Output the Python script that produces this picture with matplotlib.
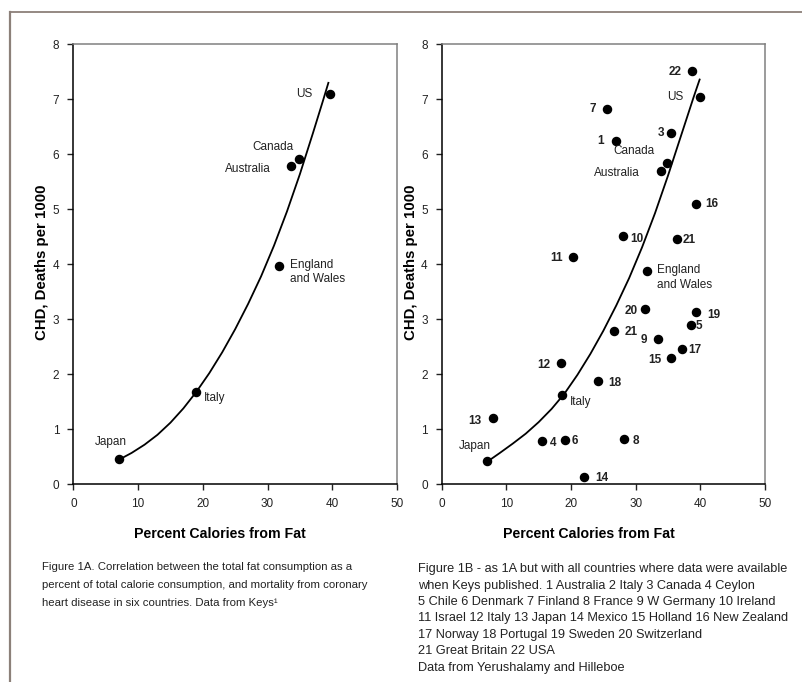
import matplotlib
matplotlib.use('Agg')
import matplotlib.pyplot as plt
from matplotlib.lines import Line2D

plt.rcParams['font.family'] = ['Liberation Sans Narrow', 'Liberation Sans', 'DejaVu Sans']

# Figure 1A - six countries (Keys)
a_fat = [7.1, 19.0, 31.7, 33.6, 34.9, 39.6]
a_chd = [0.46, 1.67, 3.97, 5.79, 5.91, 7.10]
a_names = ['Japan', 'Italy', 'England\nand Wales', 'Australia', 'Canada', 'US']

# trend line
a_curve_x = [7.1, 9, 11, 13, 15, 17, 19, 21, 23, 25, 27, 29, 31, 33, 35, 37, 38.5, 39.4]
a_curve_y = [0.45, 0.57, 0.72, 0.90, 1.12, 1.38, 1.68, 2.02, 2.40, 2.82, 3.28, 3.78,
             4.34, 4.96, 5.64, 6.38, 6.95, 7.30]

# Figure 1B - numbered countries (Yerushalamy and Hilleboe)
b_nums = ['22', '7', '3', '1', '16', '10', '21', '11', '20', '19', '5',
          '21', '9', '17', '15', '12', '18', '13', '4', '6', '8', '14']
b_fat = [38.7, 25.6, 35.4, 27.0, 39.3, 28.0, 36.4, 20.3, 31.5, 39.4, 38.5,
         26.7, 33.4, 37.1, 35.4, 18.5, 24.2, 7.9, 15.5, 19.1, 28.2, 22.0]
b_chd = [7.52, 6.82, 6.39, 6.25, 5.10, 4.51, 4.46, 4.13, 3.18, 3.13, 2.89,
         2.79, 2.65, 2.46, 2.29, 2.21, 1.88, 1.21, 0.79, 0.81, 0.82, 0.13]

# the six named countries again in 1B
b_named = ['US', 'Canada', 'Australia', 'England\nand Wales', 'Italy', 'Japan']
b_named_fat = [40.0, 34.8, 34.0, 31.7, 18.6, 7.05]
b_named_chd = [7.04, 5.84, 5.70, 3.87, 1.62, 0.42]

b_curve_x = [7.05, 9, 11, 13, 15, 17, 19, 21, 23, 25, 27, 29, 31, 33, 35, 37, 39, 39.9]
b_curve_y = [0.41, 0.57, 0.74, 0.92, 1.13, 1.37, 1.65, 1.99, 2.37, 2.79, 3.25, 3.75,
             4.31, 4.93, 5.61, 6.33, 7.05, 7.36]

ticks_x = [0, 10, 20, 30, 40, 50]
ticks_y = [0, 1, 2, 3, 4, 5, 6, 7, 8]

caption_a = ('Figure 1A. Correlation between the total fat consumption as a\n'
             'percent of total calorie consumption, and mortality from coronary\n'
             'heart disease in six countries. Data from Keys¹')
caption_b = ('Figure 1B - as 1A but with all countries where data were available\n'
             'when Keys published. 1 Australia 2 Italy 3 Canada 4 Ceylon\n'
             '5 Chile 6 Denmark 7 Finland 8 France 9 W Germany 10 Ireland\n'
             '11 Israel 12 Italy 13 Japan 14 Mexico 15 Holland 16 New Zealand\n'
             '17 Norway 18 Portugal 19 Sweden 20 Switzerland\n'
             '21 Great Britain 22 USA\n'
             'Data from Yerushalamy and Hilleboe')

# label offsets in pixels: (dx, dy, ha, va)
a_offsets = [(-8, 17, 'center', 'center'), (8, -6, 'left', 'center'),
             (11, 7, 'left', 'top'), (-20, -3, 'right', 'center'),
             (-6, 12, 'right', 'center'), (-17, 0, 'right', 'center')]
b_offsets = [(-10, -1), (-11, 0), (-6, 0), (-12, 0), (9, 0), (8, -3), (6, -1),
             (-10, -1), (-8, -2), (11, -3), (5, -1), (10, -1), (-10, -1), (7, -1),
             (-9, -2), (-11, -2), (10, -2), (-11, -3), (8, -2), (6, -1), (9, -2), (11, -1)]
b_named_offsets = [(-17, 0, 'right', 'center'), (-12, 12, 'right', 'center'),
                   (-22, -2, 'right', 'center'), (10, 7, 'left', 'top'),
                   (8, -7, 'left', 'center'), (-12, 15, 'center', 'center')]

fig = plt.figure(figsize=(8.03, 6.82), dpi=100)
ax1 = fig.add_axes([0.0913, 0.2899, 0.4031, 0.6451])
ax2 = fig.add_axes([0.5500, 0.2899, 0.4026, 0.6451])


def style_axes(ax):
    ax.set_xlim(0, 50)
    ax.set_ylim(0, 8)
    ax.set_xticks(ticks_x)
    ax.set_yticks(ticks_y)
    ax.tick_params(direction='out', length=4, width=1, labelsize=8.5, pad=6, colors='#222222')
    for s in ['left', 'bottom']:
        ax.spines[s].set_color('black')
        ax.spines[s].set_linewidth(1.1)
    for s in ['top', 'right']:
        ax.spines[s].set_color('#808080')
        ax.spines[s].set_linewidth(1.1)
    ax.set_xlabel('Percent Calories from Fat', fontsize=10.2, fontweight='bold')
    ax.set_ylabel('CHD, Deaths per 1000', fontsize=10.8, fontweight='bold')
    ax.xaxis.set_label_coords(0.454, -0.098)
    ax.yaxis.set_label_coords(-0.074, 0.505)


# Figure 1A
style_axes(ax1)
ax1.plot(a_curve_x, a_curve_y, color='black', lw=1.3, zorder=2)
ax1.scatter(a_fat, a_chd, s=34, color='black', zorder=3)
for name, x, y, (dx, dy, ha, va) in zip(a_names, a_fat, a_chd, a_offsets):
    ax1.annotate(name, (x, y), xytext=(dx, dy), textcoords='offset pixels',
                 ha=ha, va=va, fontsize=8.5, color='#222222', linespacing=1.25)

# Figure 1B
style_axes(ax2)
ax2.plot(b_curve_x, b_curve_y, color='black', lw=1.3, zorder=2)
ax2.scatter(b_fat, b_chd, s=34, color='black', zorder=3)
ax2.scatter(b_named_fat, b_named_chd, s=34, color='black', zorder=3)
for num, x, y, (dx, dy) in zip(b_nums, b_fat, b_chd, b_offsets):
    ax2.annotate(num, (x, y), xytext=(dx, dy), textcoords='offset pixels',
                 ha='right' if dx < 0 else 'left', va='center',
                 fontsize=8.5, fontweight='bold', color='#222222')
for name, x, y, (dx, dy, ha, va) in zip(b_named, b_named_fat, b_named_chd, b_named_offsets):
    ax2.annotate(name, (x, y), xytext=(dx, dy), textcoords='offset pixels',
                 ha=ha, va=va, fontsize=8.5, color='#222222', linespacing=1.25)

# captions
fig.text(42 / 803, 1 - 562 / 682, caption_a, ha='left', va='top', fontsize=8.2,
         color='#222222', linespacing=2.0)
fig.text(418 / 803, 1 - 563 / 682, caption_b, ha='left', va='top', fontsize=9.2,
         color='#222222', linespacing=1.5)

# outer frame (top and left edges)
frame_col = '#8c8079'
fig.add_artist(Line2D([10 / 803, 10 / 803], [0, 1 - 11.5 / 682], transform=fig.transFigure,
                      color=frame_col, lw=1.6))
fig.add_artist(Line2D([10 / 803, 1], [1 - 11.5 / 682, 1 - 11.5 / 682], transform=fig.transFigure,
                      color=frame_col, lw=1.3))

fig.savefig('out.png', dpi=100)
